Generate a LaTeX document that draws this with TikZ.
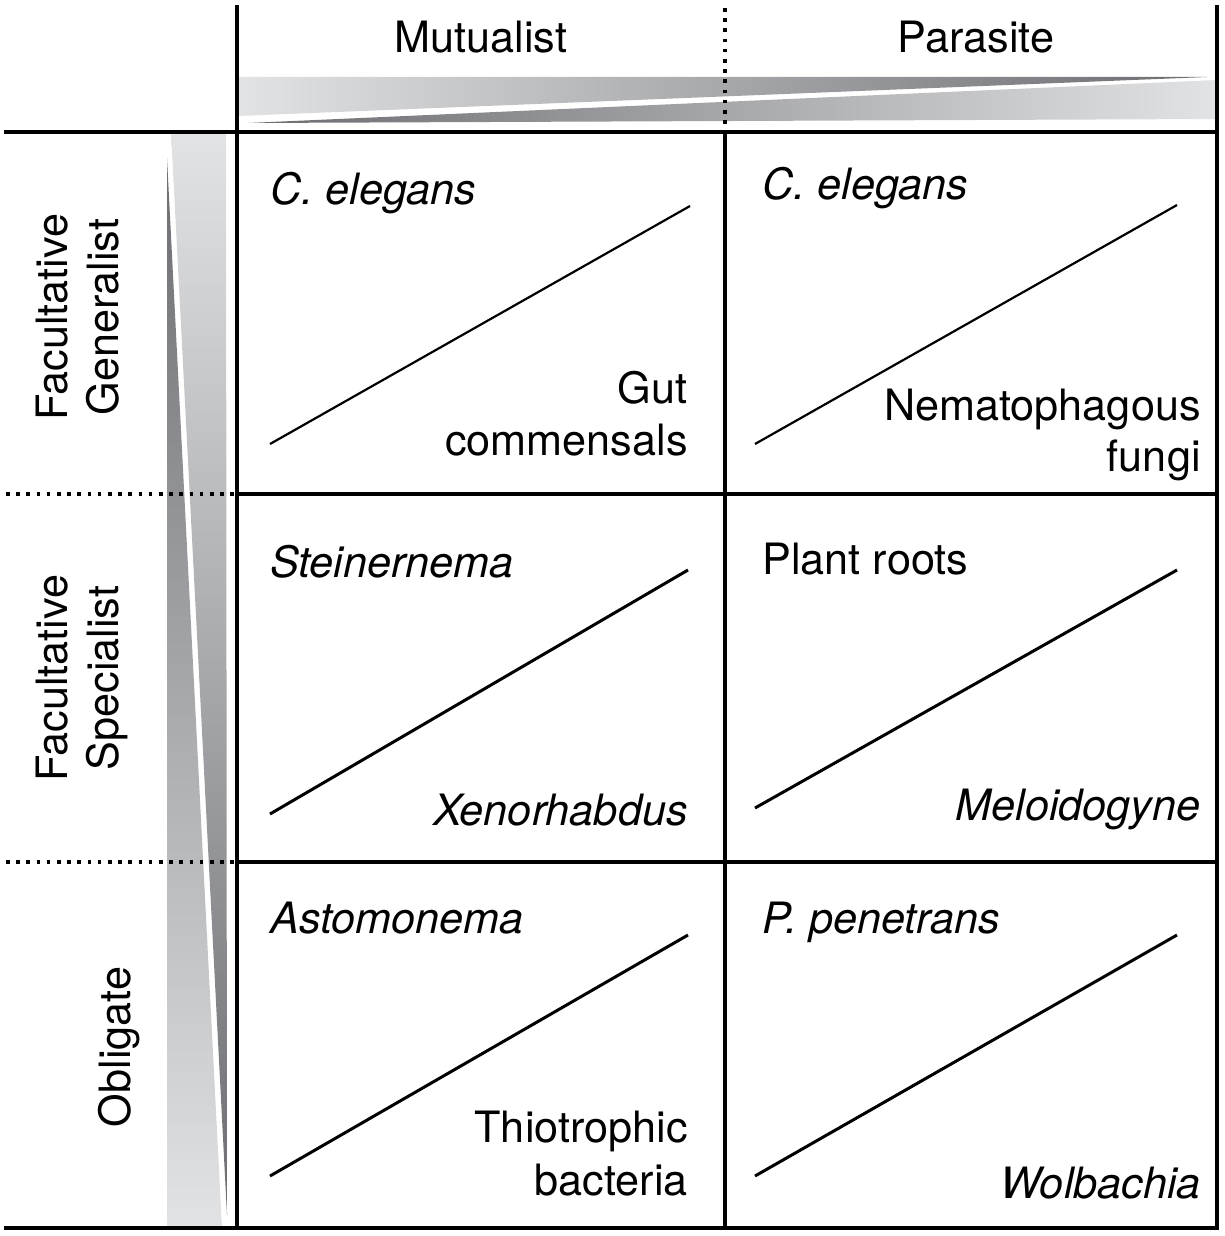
\documentclass[tikz,border=0pt]{standalone}
\usepackage{fontspec}
\setmainfont{TeX Gyre Heros}
\usepackage{tikz}
\definecolor{barlight}{HTML}{E2E3E5}
\definecolor{bardark}{HTML}{6C6D70}
\tikzset{
    gridline/.style={line width=2pt,line cap=rect},
    dotline/.style={line width=2pt,dash pattern=on 1.8pt off 3.3pt},
    diagline/.style={line width=1.1pt},
    diagthick/.style={line width=1.5pt},
    headtext/.style={inner sep=0pt,font=\fontsize{21.6}{25}\selectfont},
    hosttext/.style={headtext,font=\fontsize{21.6}{25}\selectfont\itshape},
    sidetext/.style={headtext,rotate=90,anchor=base}
}
\frenchspacing

\begin{document}
\begin{tikzpicture}[x=0.5pt,y=-0.5pt]
  \useasboundingbox (0,0) rectangle (1225,1236);
  % gradient bars
  \shade[left color=barlight,right color=bardark] (238,77) -- (1207,77) -- (238,116) -- cycle;
  \shade[left color=bardark,right color=barlight] (248,123) -- (1217,80) -- (1217,119) -- cycle;
  \shade[top color=bardark,bottom color=barlight] (167,158) -- (167,1228) -- (222,1228) -- cycle;
  \shade[top color=barlight,bottom color=bardark] (171,132) -- (226,132) -- (227,1215) -- cycle;
  % grid
  \draw[gridline] (237,7) -- (237,1228);
  \draw[dotline] (725,8) -- (725,132);
  \draw[gridline] (725,132) -- (725,1228);
  \draw[gridline] (1217,7) -- (1217,1228);
  \draw[gridline] (6,132) -- (1217,132);
  \draw[dotline] (6,494) -- (237,494);
  \draw[gridline] (237,494) -- (1217,494);
  \draw[dotline] (6,862) -- (237,862);
  \draw[gridline] (237,862) -- (1217,862);
  \draw[gridline] (6,1228) -- (1217,1228);
  % headers
  \node[headtext,anchor=base] (mutualist) at (481,53) {Mutualist};
  \node[headtext,anchor=base] (parasite) at (976,53) {Parasite};
  \node[sidetext] (fgA) at (67,317) {Facultative};
  \node[sidetext] (fgB) at (118,317) {Generalist};
  \node[sidetext] (fsA) at (67,678) {Facultative};
  \node[sidetext] (fsB) at (118,678) {Specialist};
  \node[sidetext] (oblig) at (130,1047) {Obligate};
  % row 1
  \draw[diagline] (270,444) -- (690,206);
  \draw[diagline] (755,444) -- (1177,205);
  \node[hosttext,anchor=base west] (elegA) at (270,204) {C. elegans};
  \node[hosttext,anchor=base west] (elegB) at (762,199) {C. elegans};
  \node[headtext,anchor=base east] (gut) at (688,403) {Gut};
  \node[headtext,anchor=base east] (comm) at (688,455) {commensals};
  \node[headtext,anchor=base east] (nema) at (1201,420) {Nematophagous};
  \node[headtext,anchor=base east] (fungi) at (1201,471) {fungi};
  % row 2
  \draw[diagthick] (270,814) -- (688,570);
  \draw[diagthick] (755,808) -- (1177,570);
  \node[hosttext,anchor=base west] (stein) at (270,577) {Steinernema};
  \node[headtext,anchor=base west] (roots) at (762,574) {Plant roots};
  \node[hosttext,anchor=base east] (xeno) at (688,825) {Xenorhabdus};
  \node[hosttext,anchor=base east] (meloi) at (1201,820) {Meloidogyne};
  % row 3
  \draw[diagthick] (270,1176) -- (688,935);
  \draw[diagthick] (755,1176) -- (1177,935);
  \node[hosttext,anchor=base west] (astom) at (270,933) {Astomonema};
  \node[hosttext,anchor=base west] (penet) at (762,933) {P. penetrans};
  \node[headtext,anchor=base east] (thio) at (688,1142) {Thiotrophic};
  \node[headtext,anchor=base east] (bact) at (688,1195) {bacteria};
  \node[hosttext,anchor=base east] (wolb) at (1201,1198) {Wolbachia};
\end{tikzpicture}
\end{document}
